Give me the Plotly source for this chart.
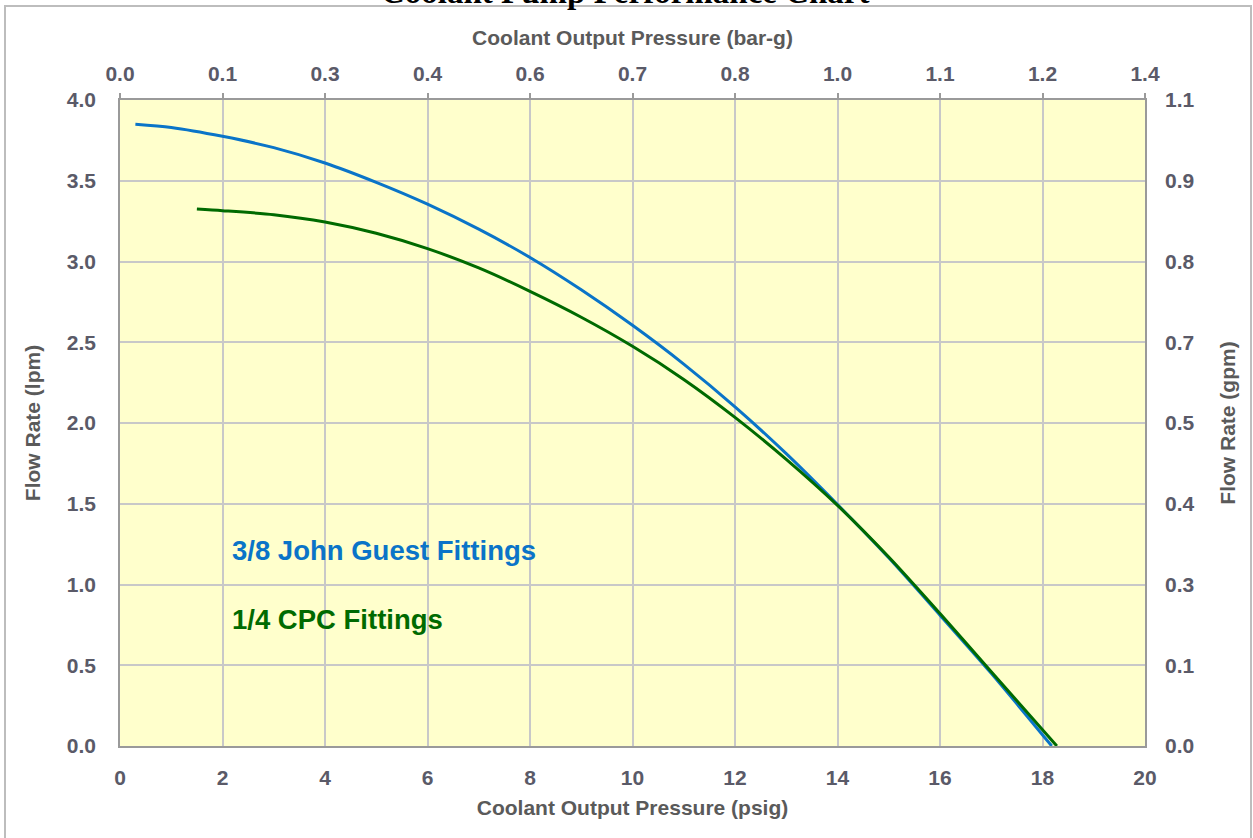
import plotly.graph_objects as go

# ---- data ----
jg_psi = [0.3, 1, 2, 3, 4, 5, 6, 7, 8, 9, 10, 11, 12, 13, 14, 15, 16, 17, 18.18]
jg_lpm = [3.85, 3.83, 3.775, 3.705, 3.61, 3.49, 3.355, 3.20, 3.025, 2.825, 2.605, 2.365, 2.10, 1.81, 1.495, 1.165, 0.81, 0.45, 0.0]

cpc_psi = [1.5, 2, 3, 4, 5, 6, 7, 8, 9, 10, 11, 12, 13, 14, 15, 16, 17, 18.28]
cpc_lpm = [3.325, 3.315, 3.29, 3.245, 3.175, 3.08, 2.96, 2.815, 2.655, 2.475, 2.27, 2.035, 1.775, 1.49, 1.17, 0.82, 0.46, 0.0]

psi_ticks = [0, 2, 4, 6, 8, 10, 12, 14, 16, 18, 20]
bar_labels = ["0.0", "0.1", "0.3", "0.4", "0.6", "0.7", "0.8", "1.0", "1.1", "1.2", "1.4"]
lpm_ticks = [0, 0.5, 1.0, 1.5, 2.0, 2.5, 3.0, 3.5, 4.0]
lpm_labels = ["0.0", "0.5", "1.0", "1.5", "2.0", "2.5", "3.0", "3.5", "4.0"]
gpm_labels = ["0.0", "0.1", "0.3", "0.4", "0.5", "0.7", "0.8", "0.9", "1.1"]

series_names = ["3/8 John Guest Fittings", "1/4 CPC Fittings"]
series_colors = ["#0A74C8", "#006A00"]
title_text = "Coolant Pump Performance Chart"

# ---- style ----
FONT = "Liberation Sans, Arial, sans-serif"
TICKC = "#5A5A68"
TITLEC = "#5A5A5A"
GRID = "#C8C8C8"
LINEC = "#9A9A9A"
tickfont = dict(family=FONT, size=21, color=TICKC, weight="bold")
titlefont = dict(family=FONT, size=21, color=TITLEC, weight="bold")

fig = go.Figure()
fig.add_trace(go.Scatter(x=jg_psi, y=jg_lpm, mode="lines", name=series_names[0],
                         line=dict(color=series_colors[0], width=3, shape="spline", smoothing=0.8),
                         hoverinfo="skip"))
fig.add_trace(go.Scatter(x=cpc_psi, y=cpc_lpm, mode="lines", name=series_names[1],
                         line=dict(color=series_colors[1], width=3, shape="spline", smoothing=0.8),
                         hoverinfo="skip"))
# invisible helper trace so the secondary (top/right) axes are drawn
fig.add_trace(go.Scatter(x=jg_psi, y=jg_lpm, mode="lines", xaxis="x2", yaxis="y2",
                         line=dict(color="rgba(0,0,0,0)", width=0), showlegend=False,
                         hoverinfo="skip"))

fig.update_layout(
    width=1253, height=838,
    margin=dict(l=120, r=108, t=100, b=92),
    paper_bgcolor="white",
    plot_bgcolor="#FFFFCC",
    showlegend=False,
    xaxis=dict(range=[0, 20], tickvals=psi_ticks, ticktext=[str(v) for v in psi_ticks],
               showgrid=True, gridcolor=GRID, gridwidth=1.5, zeroline=False,
               showline=True, linecolor=LINEC, linewidth=1.5, mirror=True,
               ticks="", tickfont=tickfont, ticklabelstandoff=12,
               title=dict(text="Coolant Output Pressure (psig)", font=titlefont, standoff=12)),
    yaxis=dict(range=[0, 4], tickvals=lpm_ticks, ticktext=lpm_labels,
               showgrid=True, gridcolor=GRID, gridwidth=1.5, zeroline=False,
               showline=True, linecolor=LINEC, linewidth=1.5, mirror=True,
               ticks="", tickfont=tickfont, ticklabelstandoff=18,
               title=dict(text="Flow Rate (lpm)", font=titlefont, standoff=20)),
    xaxis2=dict(range=[0, 20], overlaying="x", side="top", anchor="y2",
                tickvals=psi_ticks, ticktext=bar_labels, showgrid=False, zeroline=False,
                showline=False, ticks="outside", ticklen=6, tickwidth=1.5, tickcolor=LINEC,
                tickfont=tickfont, ticklabelstandoff=4,
                title=dict(text="Coolant Output Pressure (bar-g)", font=titlefont, standoff=10)),
    yaxis2=dict(range=[0, 4], overlaying="y", side="right", anchor="x2",
                tickvals=lpm_ticks, ticktext=gpm_labels, showgrid=False, zeroline=False,
                showline=False, ticks="", tickfont=tickfont, ticklabelstandoff=19,
                title=dict(text="Flow Rate (gpm)", font=titlefont, standoff=26)),
)

# series labels inside plot
label_pos = [(2.15, 1.21), (2.15, 0.786)]
for name, col, (lx, ly) in zip(series_names, series_colors, label_pos):
    fig.add_annotation(x=lx, y=ly, xref="x", yref="y", text=name, showarrow=False,
                       xanchor="left", yanchor="middle",
                       font=dict(family=FONT, size=27.5, color=col, weight="bold"))

# partially clipped chart title at very top (as in the reference)
fig.add_annotation(x=(625 - 120) / 1025, y=(746 - 12) / 646, xref="paper", yref="paper",
                   text=title_text, showarrow=False, xanchor="center", yanchor="bottom",
                   font=dict(family="Liberation Serif, Times New Roman, serif", size=33,
                             color="black", weight="bold"))

# outer frame
fig.add_shape(type="rect", xref="paper", yref="paper",
              x0=(5 - 120) / 1025, x1=(1251 - 120) / 1025,
              y0=(746 - 850) / 646, y1=(746 - 6) / 646,
              line=dict(color="#BDBDBD", width=2), fillcolor="rgba(0,0,0,0)", layer="below")

fig.write_html("out.html", config={"displayModeBar": False},
               post_script="document.body.style.margin='0';")
